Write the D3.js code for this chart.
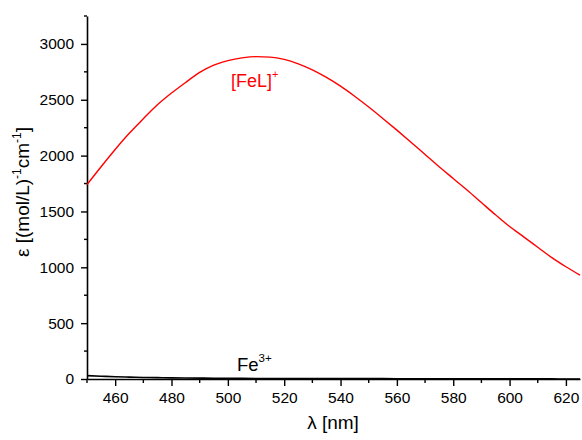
<!DOCTYPE html>
<html><head><meta charset="utf-8">
<script src="https://cdn.jsdelivr.net/npm/d3@7"></script>
<style>body{margin:0;background:#fff}svg{display:block}text{font-family:Arial,"Liberation Sans",sans-serif}</style>
</head><body><svg id="c" width="582" height="440"></svg>
<script>
const wavelengths = [450,455,460,465,470,475,480,485,490,495,500,505,510,515,520,525,530,535,540,545,550,555,560,565,570,575,580,585,590,595,600,605,610,615,620,625];
const felValues = [1740,1900,2055,2200,2330,2455,2560,2655,2745,2810,2850,2875,2886,2882,2862,2822,2768,2700,2622,2532,2435,2333,2228,2120,2010,1900,1795,1690,1580,1470,1365,1273,1180,1087,1005,930];
const fe3Values = [30,25,20,17,14,12,10,9,8,7,6,6,5,5,5,4,4,4,3,3,3,3,2,2,2,2,2,1,1,1,1,1,1,1,0,0];
const xTicks = [460,480,500,520,540,560,580,600,620];
const yTicks = [0,500,1000,1500,2000,2500,3000];

const svg = d3.select("#c");
const m = {l:87, r:2, t:16, b:61};
const W = 582, H = 440;
const x = d3.scaleLinear().domain([450,625]).range([m.l, W-m.r]);
const y = d3.scaleLinear().domain([0,3250]).range([H-m.b, m.t]);

const xMinor = d3.range(450, 626, 10).filter(v => !xTicks.includes(v));
const yMinor = d3.range(250, 3251, 500);

const gx = svg.append("g").attr("transform", `translate(0,${H-m.b})`);
gx.call(d3.axisBottom(x).tickValues(xTicks).tickSize(7).tickSizeOuter(0).tickFormat(d3.format("d")));
gx.append("g").selectAll("line").data(xMinor).join("line")
  .attr("x1", d=>x(d)).attr("x2", d=>x(d)).attr("y1",0).attr("y2",4).attr("stroke","#000").attr("stroke-width",1.4);
const gy = svg.append("g").attr("transform", `translate(${m.l},0)`);
gy.call(d3.axisLeft(y).tickValues(yTicks).tickSize(6).tickSizeOuter(0).tickFormat(d3.format("d")));
gy.append("g").selectAll("line").data(yMinor).join("line")
  .attr("y1", d=>y(d)).attr("y2", d=>y(d)).attr("x1",0).attr("x2",-3).attr("stroke","#000").attr("stroke-width",1.4);

svg.selectAll(".domain").attr("stroke","#000").attr("stroke-width",1.6);
svg.selectAll(".tick line").attr("stroke","#000").attr("stroke-width",1.4);
svg.selectAll(".tick text").attr("font-size",15.5).attr("fill","#000").attr("font-family","Arial, 'Liberation Sans', sans-serif");
gx.selectAll(".tick text").attr("dy",0).attr("y",24);
gy.selectAll(".tick text").attr("x",-13);

const line = d3.line().x((d,i)=>x(wavelengths[i])).y(d=>y(d)).curve(d3.curveMonotoneX);
svg.append("path").datum(fe3Values).attr("d", line).attr("fill","none").attr("stroke","#000").attr("stroke-width",1.6);
svg.append("path").datum(felValues).attr("d", line).attr("fill","none").attr("stroke","#ff0000").attr("stroke-width",1.4);

const t1 = svg.append("text").attr("x",231).attr("y",87).attr("font-size",18).attr("fill","#ff0000");
t1.append("tspan").text("[FeL]");
t1.append("tspan").attr("font-size",11).attr("dy",-9).text("+");
const t2 = svg.append("text").attr("x",237).attr("y",371).attr("font-size",18.5).attr("fill","#000");
t2.append("tspan").text("Fe");
t2.append("tspan").attr("font-size",11.5).attr("dy",-9).text("3+");

svg.append("text").attr("x",333).attr("y",429).attr("text-anchor","middle").attr("font-size",19).text("λ [nm]");
const yl = svg.append("text").attr("transform","translate(29,192) rotate(-90)").attr("text-anchor","middle").attr("font-size",19);
yl.append("tspan").text("ε [(mol/L)");
yl.append("tspan").attr("font-size",12).attr("dy",-8).text("-1");
yl.append("tspan").attr("dy",8).text("cm");
yl.append("tspan").attr("font-size",12).attr("dy",-8).text("-1");
yl.append("tspan").attr("dy",8).text("]");
</script></body></html>
